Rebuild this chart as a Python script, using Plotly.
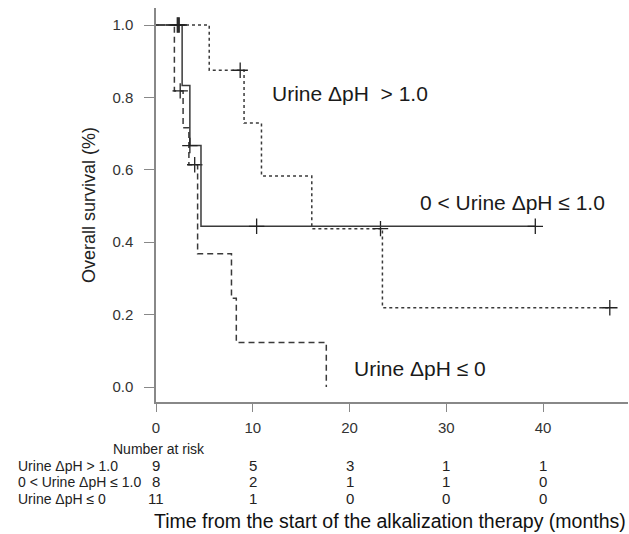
import plotly.graph_objects as go

# ---- data ----
# Urine dpH > 1.0 (dotted)
hi_t = [0, 5.5, 9.1, 10.9, 16.1, 23.4, 46.9]
hi_s = [1.0, 0.875, 0.729, 0.583, 0.4375, 0.219, 0.219]
hi_ct = [2.3, 8.7, 23.2, 46.9]
hi_cs = [1.0, 0.875, 0.4375, 0.219]

# 0 < Urine dpH <= 1.0 (solid)
mid_t = [0, 2.7, 3.5, 4.65, 39.2]
mid_s = [1.0, 0.833, 0.667, 0.444, 0.444]
mid_ct = [2.2, 2.4, 3.5, 10.4, 39.2]
mid_cs = [1.0, 1.0, 0.667, 0.444, 0.444]

# Urine dpH <= 0 (dashed)
lo_t = [0, 1.9, 2.8, 3.4, 4.3, 7.8, 8.3, 17.6]
lo_s = [1.0, 0.818, 0.716, 0.614, 0.368, 0.245, 0.123, 0.0]
lo_ct = [2.5, 4.0]
lo_cs = [0.818, 0.614]

# number at risk table
risk_times = [0, 10, 20, 30, 40]
risk_labels = ["Urine ΔpH > 1.0", "0 < Urine ΔpH ≤ 1.0", "Urine ΔpH ≤ 0"]
risk_hi = [9, 5, 3, 1, 1]
risk_mid = [8, 2, 1, 1, 0]
risk_lo = [11, 1, 0, 0, 0]

y_ticks = [0.0, 0.2, 0.4, 0.6, 0.8, 1.0]
x_ticks = [0, 10, 20, 30, 40]

FONT = "Liberation Sans, Arial, sans-serif"
LINE = "#3a3a3a"

fig = go.Figure()

def add_group(t, s, ct, cs, dash):
    fig.add_trace(go.Scatter(x=t, y=s, mode="lines", line_shape="hv",
                             line=dict(color=LINE, width=1.5, dash=dash),
                             showlegend=False, hoverinfo="skip"))
    fig.add_trace(go.Scatter(x=ct, y=cs, mode="markers",
                             marker=dict(symbol="cross-thin", size=11,
                                         line=dict(color="#222222", width=1.3)),
                             showlegend=False, hoverinfo="skip"))

add_group(hi_t, hi_s, hi_ct, hi_cs, "dot")
add_group(lo_t, lo_s, lo_ct, lo_cs, "6px,4px")
add_group(mid_t, mid_s, mid_ct, mid_cs, "solid")

annotations = [
    dict(x=20.05, y=0.812, xref="x", yref="y", text="Urine ΔpH  > 1.0",
         showarrow=False, font=dict(size=21, color="#1a1a1a", family=FONT)),
    dict(x=36.8, y=0.511, xref="x", yref="y", text="0 < Urine ΔpH ≤ 1.0",
         showarrow=False, font=dict(size=21, color="#1a1a1a", family=FONT)),
    dict(x=27.3, y=0.052, xref="x", yref="y", text="Urine ΔpH ≤ 0",
         showarrow=False, font=dict(size=21, color="#1a1a1a", family=FONT)),
    dict(x=-0.0953, y=-0.119, xref="paper", yref="paper", text="Number at risk",
         xanchor="left", yanchor="middle", showarrow=False,
         font=dict(size=14, color="#222", family=FONT)),
]

row_y = [-0.162, -0.203, -0.246]
for lab, yy, vals in zip(risk_labels, row_y, [risk_hi, risk_mid, risk_lo]):
    annotations.append(dict(x=-0.2966, y=yy, xref="paper", yref="paper", text=lab,
                            xanchor="left", yanchor="middle", showarrow=False,
                            font=dict(size=14, color="#222", family=FONT)))
    for tt, v in zip(risk_times, vals):
        annotations.append(dict(x=tt, y=yy, xref="x", yref="paper", text=str(v),
                                xanchor="center", yanchor="middle", showarrow=False,
                                font=dict(size=15, color="#222", family=FONT)))

annotations.append(dict(x=0.496, y=-0.302, xref="paper", yref="paper",
                        text="Time from the start of the alkalization therapy (months)",
                        xanchor="center", yanchor="middle", showarrow=False,
                        font=dict(size=19.5, color="#111", family=FONT)))

fig.update_layout(
    width=629, height=534,
    margin=dict(l=156, r=1, t=8, b=132),
    paper_bgcolor="white", plot_bgcolor="white",
    font=dict(family=FONT, color="#333"),
    annotations=annotations,
    xaxis=dict(range=[0, 48.78], tickvals=x_ticks, ticks="outside", ticklen=8,
               tickcolor="#888", tickwidth=1.3, showline=True, linecolor="#888",
               linewidth=1.5, showgrid=False, zeroline=False, ticklabelstandoff=3,
               tickfont=dict(size=15, color="#333", family=FONT)),
    yaxis=dict(range=[-0.0414, 1.047], tickvals=y_ticks, tickformat=".1f",
               ticks="outside", ticklen=10, tickcolor="#888", tickwidth=1.3,
               showline=True, linecolor="#888", linewidth=1.5, showgrid=False,
               zeroline=False, ticklabelstandoff=8,
               tickfont=dict(size=15, color="#333", family=FONT),
               title=dict(text="Overall survival (%)", standoff=12,
                          font=dict(size=18, color="#222", family=FONT))),
)

fig.write_html("out.html")
